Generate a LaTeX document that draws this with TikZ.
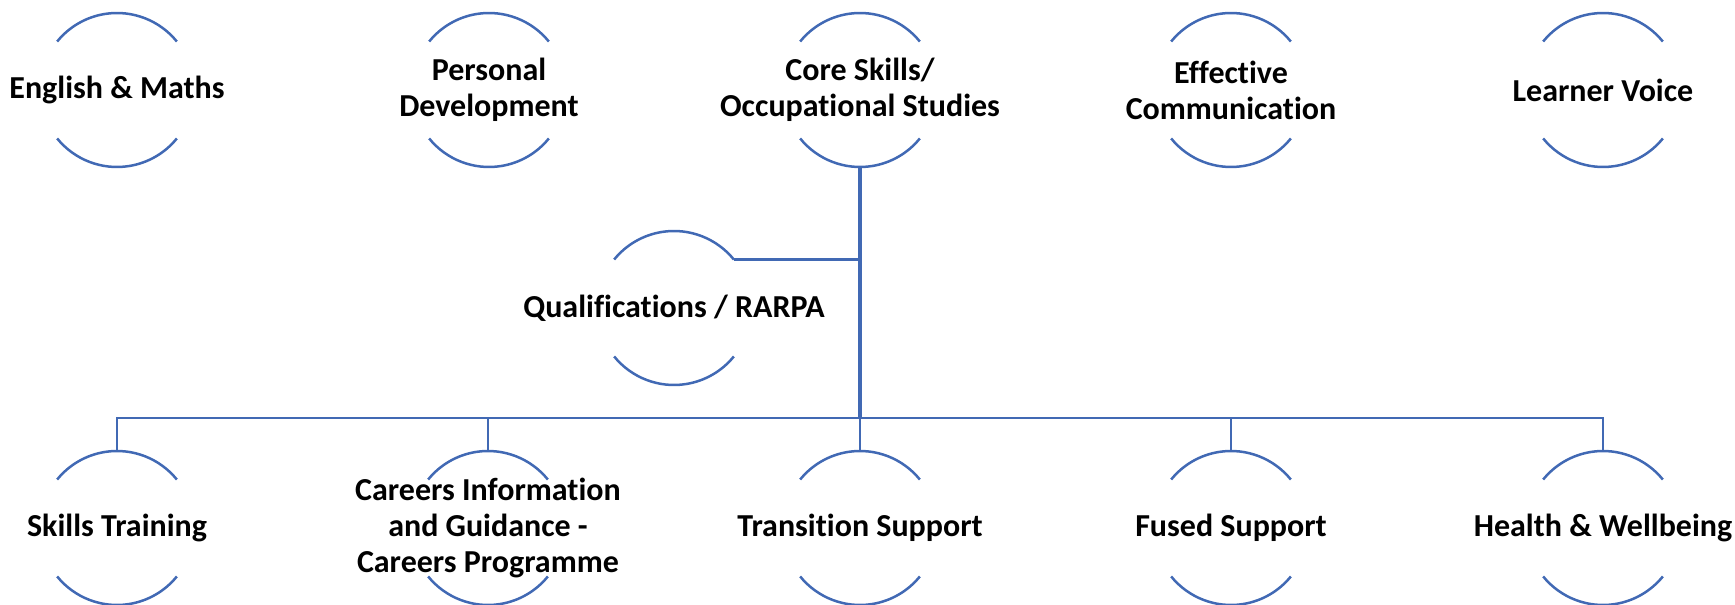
\documentclass[tikz,border=0pt]{standalone}
\usepackage{fontspec}
\setmainfont{Carlito}[Ligatures={NoCommon}]
\definecolor{ringblue}{HTML}{4169B4}
\begin{document}
\begin{tikzpicture}[x=1pt,y=1pt,
  ring/.style={circle,minimum size=154pt,inner sep=0pt,outer sep=0pt},
  lbl/.style={align=center,font=\fontsize{32}{36}\selectfont\bfseries,text=black,inner sep=0pt},
  arcline/.style={draw=ringblue,line width=2.5pt},
  conn/.style={draw=ringblue,line width=2.8pt},
  trunk/.style={draw=ringblue,line width=3.6pt}]
\useasboundingbox (0,0) rectangle (1735,605);
% top row
\node[ring] (eng) at (117,515) {};
\node[ring] (pers) at (489,515) {};
\node[ring] (core) at (860,515) {};
\node[ring] (eff) at (1231,515) {};
\node[ring] (lv) at (1603,515) {};
% middle
\node[ring] (qual) at (674,297) {};
% bottom row
\node[ring] (skills) at (117,77) {};
\node[ring] (careers) at (488,77) {};
\node[ring] (trans) at (860,77) {};
\node[ring] (fused) at (1231,77) {};
\node[ring] (health) at (1603,77) {};
% arcs
\foreach \n in {eng,pers,core,eff,lv,qual,skills,careers,trans,fused,health}{
  \draw[arcline] (\n.39) arc[start angle=39,end angle=141,radius=77pt];
  \draw[arcline] (\n.219) arc[start angle=219,end angle=321,radius=77pt];
}
% labels
\node[lbl] (engt) at (eng) {English \& Maths};
\node[lbl] (perst) at (pers) {Personal\\Development};
\node[lbl] (coret) at (core) {Core Skills/\\Occupational Studies};
\node[lbl] (efft) at (eff) {Effective\\Communication};
\node[lbl] (lvt) at (lv) {Learner Voice};
\node[lbl] (qualt) at (qual) {Qualifications / RARPA};
\node[lbl] (skillst) at (skills) {Skills Training};
\node[lbl] (careerst) at (careers) {Careers Information\\and Guidance -\\Careers Programme};
\node[lbl] (transt) at (trans) {Transition Support};
\node[lbl] (fusedt) at (fused) {Fused Support};
\node[lbl] (healtht) at (health) {Health \& Wellbeing};
% connectors
\coordinate (bus) at (860,187);
\draw[trunk] (core.south) -- (bus);
\draw[conn] (qual.39) -- (qual.39 -| core.south);
\draw[conn] (skills.north) |- (bus) -| (health.north);
\draw[conn] (careers.north) -- (careers.north |- bus);
\draw[conn] (trans.north) -- (trans.north |- bus);
\draw[conn] (fused.north) -- (fused.north |- bus);
\end{tikzpicture}
\end{document}
